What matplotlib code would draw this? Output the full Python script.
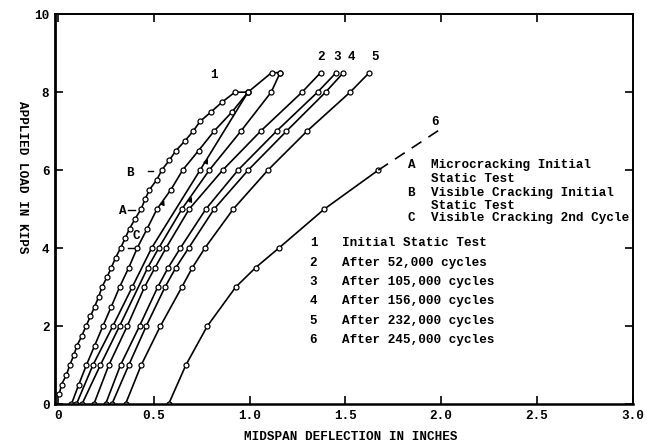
import matplotlib
matplotlib.use("Agg")
from matplotlib import pyplot as plt

# initial static test, first loading (every 0.25 kip) then up to 8.5
c1_load = [0.25, 0.5, 0.75, 1.0, 1.25, 1.5, 1.75, 2.0, 2.25, 2.5, 2.75, 3.0, 3.25, 3.5,
           3.75, 4.0, 4.25, 4.5, 4.75, 5.0, 5.25, 5.5, 5.75, 6.0, 6.25, 6.5, 6.75, 7.0,
           7.25, 7.5, 7.75, 8.0, 8.0, 8.5, 8.5]
c1_defl = [0.007, 0.019, 0.045, 0.062, 0.083, 0.100, 0.125, 0.147, 0.170, 0.192, 0.213,
           0.230, 0.256, 0.279, 0.301, 0.327, 0.351, 0.374, 0.403, 0.434, 0.455, 0.478,
           0.516, 0.542, 0.581, 0.616, 0.663, 0.706, 0.742, 0.801, 0.858, 0.924, 0.992,
           1.115, 1.160]

# second cycle of initial test
c1b_load = [0, 0.5, 1, 1.5, 2, 2.5, 3, 3.5, 4, 4.5, 5, 5.5, 6, 6.5, 7, 7.5, 8]
c1b_defl = [0.071, 0.109, 0.149, 0.192, 0.235, 0.279, 0.322, 0.370, 0.414, 0.466, 0.517,
            0.590, 0.651, 0.734, 0.815, 0.910, 0.992]

c1c_load = [0, 1, 2, 3, 4, 6, 8]
c1c_defl = [0.097, 0.183, 0.287, 0.388, 0.489, 0.742, 0.992]

c1d_load = [0, 1, 2, 3.5, 4, 5, 6, 7, 8, 8.5]
c1d_defl = [0.126, 0.222, 0.322, 0.469, 0.526, 0.647, 0.790, 0.955, 1.113, 1.160]

# curves 2-5 after cycling
load_25 = [0, 1, 2, 3, 3.5, 4, 5, 6, 7, 8, 8.5]
c2_defl = [0.188, 0.266, 0.362, 0.452, 0.507, 0.564, 0.685, 0.860, 1.058, 1.274, 1.371]
c3_defl = [0.249, 0.327, 0.426, 0.521, 0.576, 0.639, 0.772, 0.940, 1.141, 1.355, 1.452]
c4_defl = [0.282, 0.370, 0.461, 0.559, 0.616, 0.682, 0.815, 0.993, 1.193, 1.397, 1.490]
c5_defl = [0.353, 0.435, 0.535, 0.647, 0.702, 0.767, 0.915, 1.096, 1.300, 1.525, 1.625]

c6_load = [0, 1, 2, 3, 3.5, 4, 5, 6]
c6_defl = [0.578, 0.668, 0.780, 0.928, 1.032, 1.153, 1.390, 1.672]
c6_ext_load = [6.0, 7.03]
c6_ext_defl = [1.672, 1.990]

curve_labels = ['1', '2', '3', '4', '5', '6']
curve_label_x = [0.815, 1.374, 1.459, 1.530, 1.655, 1.966]
curve_label_y = [8.44, 8.90, 8.90, 8.90, 8.90, 7.24]

legend_num = ['1', '2', '3', '4', '5', '6']
legend_txt = ['Initial Static Test', 'After 52,000 cycles', 'After 105,000 cycles',
              'After 156,000 cycles', 'After 232,000 cycles', 'After 245,000 cycles']

note_keys = ['A', '', 'B', '', 'C']
note_txt = ['Microcracking Initial', 'Static Test', 'Visible Cracking Initial',
            'Static Test', 'Visible Cracking 2nd Cycle']
note_y = [6.13, 5.77, 5.42, 5.08, 4.76]

mono = 'Liberation Mono'
fs = 9.1
fw = 'bold'

fig = plt.figure(figsize=(6.47, 4.44), dpi=100)
ax = fig.add_axes([0.085, 0.090, 0.893, 0.878])

mk = dict(color='black', lw=1.2, marker='o', ms=3.6, mfc='white', mec='black', mew=0.9)
ax.plot(c1_defl, c1_load, **mk)
ax.plot(c1b_defl, c1b_load, **mk)
ax.plot(c1c_defl, c1c_load, **mk)
ax.plot(c1d_defl, c1d_load, **mk)
for d in [c2_defl, c3_defl, c4_defl, c5_defl]:
    ax.plot(d, load_25, **mk)
ax.plot(c6_defl, c6_load, **mk)
ax.plot(c6_ext_defl, c6_ext_load, color='black', lw=1.2, dashes=(7, 5))

# direction arrows on reload lines
for (x0, y0, x1, y1) in [(0.540, 5.05, 0.560, 5.30), (0.682, 5.12, 0.705, 5.38),
                         (0.765, 6.12, 0.790, 6.36)]:
    ax.annotate('', xy=(x1, y1), xytext=(x0, y0),
                arrowprops=dict(arrowstyle='-|>', color='black', lw=0.8, mutation_scale=7))

# A, B, C markers
ax.text(0.339, 4.95, 'A', family=mono, fontsize=fs, fontweight=fw, va='center', ha='center')
ax.plot([0.368, 0.400], [4.99, 4.99], color='black', lw=1.0)
ax.text(0.374, 5.92, 'B', family=mono, fontsize=fs, fontweight=fw, va='center', ha='center')
ax.plot([0.468, 0.498], [5.98, 5.98], color='black', lw=1.0)
ax.text(0.409, 4.30, 'C', family=mono, fontsize=fs, fontweight=fw, va='center', ha='center')
ax.plot([0.366, 0.398], [4.0, 4.0], color='black', lw=1.0)

for lab, x, y in zip(curve_labels, curve_label_x, curve_label_y):
    ax.text(x, y, lab, family=mono, fontsize=fs, fontweight=fw, ha='center', va='center')

for k, t, y in zip(note_keys, note_txt, note_y):
    ax.text(1.845, y, k, family=mono, fontsize=fs, fontweight=fw, ha='center', va='center')
    ax.text(1.949, y, t, family=mono, fontsize=fs, fontweight=fw, ha='left', va='center')

for i, (n, t) in enumerate(zip(legend_num, legend_txt)):
    y = 4.12 - 0.495 * i
    ax.text(1.334, y, n, family=mono, fontsize=fs, fontweight=fw, ha='center', va='center')
    ax.text(1.481, y, t, family=mono, fontsize=fs, fontweight=fw, ha='left', va='center')

ax.set_xlim(-0.015, 3.0)
ax.set_ylim(0, 10)
ax.set_xticks([0, 0.5, 1.0, 1.5, 2.0, 2.5, 3.0])
ax.set_xticklabels(['0', '0.5', '1.0', '1.5', '2.0', '2.5', '3.0'], family=mono,
                   fontsize=fs, fontweight=fw)
ax.set_yticks([0, 2, 4, 6, 8, 10])
ax.set_yticklabels(['0', '2', '4', '6', '8', '10'], family=mono, fontsize=fs, fontweight=fw)
ax.tick_params(direction='in', length=6, width=1.2, top=True, right=True, pad=4)
for s in ax.spines.values():
    s.set_linewidth(1.4)
ax.spines['left'].set_linewidth(2.0)
ax.spines['bottom'].set_linewidth(1.8)

fig.text(351 / 647, 1 - 437 / 444, 'MIDSPAN DEFLECTION IN INCHES', family=mono,
         fontsize=fs, fontweight=fw, ha='center', va='center')
fig.text(22 / 647, 1 - 177 / 444, 'APPLIED LOAD IN KIPS', family=mono, fontsize=fs,
         fontweight=fw, rotation=270, ha='center', va='center')

fig.savefig('out.png', dpi=100)
